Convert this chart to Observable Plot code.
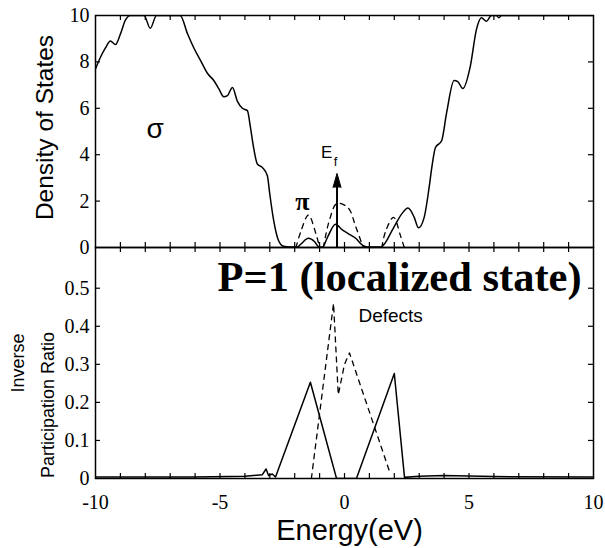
<!DOCTYPE html>
<html>
<head>
<meta charset="utf-8">
<script src="https://cdn.jsdelivr.net/npm/d3@7"></script>
<script src="https://cdn.jsdelivr.net/npm/@observablehq/plot@0.6"></script>
<style>
html, body { margin: 0; padding: 0; background: #fff; }
#chart { position: relative; width: 605px; height: 548px; overflow: hidden; }
#chart svg { position: absolute; left: 0; top: 0; }
</style>
</head>
<body>
<div id="chart"></div>
<script>
// ---------- data ----------
const energyTickMarks = d3.range(-9, 10);          // minor ticks every 1 eV
const energyTickLabels = [-10, -5, 0, 5, 10];
const dosTicks = [0, 2, 4, 6, 8, 10];
const iprTicks = [0, 0.1, 0.2, 0.3, 0.4, 0.5];
const fermiEnergy = -0.3;

// Density of states (solid) [energy, DOS]
const dosSolid = [
  [-10.0, 7.7], [-9.8, 8.2], [-9.6, 8.6], [-9.4, 8.9], [-9.2, 8.75], [-9.0, 9.2], [-8.8, 9.8], [-8.6, 10],
  [-8.05, 10], [-7.8, 9.45], [-7.55, 10], [-6.6, 10], [-6.3, 9.2], [-6.05, 8.6], [-5.8, 8.1], [-5.5, 7.5],
  [-5.25, 7.2], [-5.05, 6.85], [-4.85, 6.5], [-4.7, 6.55], [-4.5, 6.9], [-4.3, 6.3], [-4.1, 6.0], [-3.9, 5.9],
  [-3.78, 5.2], [-3.65, 4.3], [-3.5, 3.6], [-3.3, 3.45], [-3.1, 3.1], [-3.0, 2.3], [-2.85, 1.2], [-2.65, 0.3],
  [-2.45, 0.05], [-2.2, 0.02], [-1.9, 0.02], [-1.75, 0.15], [-1.45, 0.4], [-1.2, 0.25], [-1.05, 0.05],
  [-0.88, 0.02], [-0.68, 0.45], [-0.36, 1.0], [-0.1, 0.77], [0.15, 0.6], [0.45, 0.4], [0.72, 0.1],
  [0.92, 0.02], [1.45, 0.02], [1.97, 0.85], [2.3, 1.45], [2.55, 1.7], [2.8, 1.3], [2.97, 0.85], [3.2, 1.3],
  [3.4, 2.6], [3.5, 3.4], [3.65, 4.3], [3.9, 4.6], [4.1, 5.8], [4.4, 7.2], [4.55, 7.15], [4.75, 6.85],
  [5.05, 7.8], [5.3, 9.4], [5.5, 9.9], [5.7, 9.75], [5.9, 10], [6.1, 10], [6.2, 9.9], [6.3, 10], [10, 10]
];
// Dashed partial DOS curves
const dosPiDashed = [[-1.95, 0], [-1.75, 0.7], [-1.45, 1.4], [-1.15, 0.6], [-1.0, 0]];
const dosMidDashed = [[-0.85, 0], [-0.6, 1.2], [-0.3, 1.9], [0.15, 1.7], [0.45, 0.9], [0.75, 0]];
const dosRightDashed = [[1.5, 0], [1.65, 0.7], [1.97, 1.3], [2.25, 0.5], [2.4, 0]];

// Inverse participation ratio (solid) [energy, IPR]
const iprSolid = [
  [-10, 0.004], [-6, 0.004], [-4, 0.006], [-3.3, 0.01], [-3.15, 0.025], [-3.05, 0.008], [-2.9, 0.012],
  [-2.77, 0.004], [-1.37, 0.253], [-0.32, 0], [0.48, 0], [2.0, 0.276], [2.41, 0.003], [3, 0.006],
  [4, 0.008], [6, 0.005], [10, 0.004]
];
// Defects (dashed)
const iprDashed = [[-1.33, 0], [-0.44, 0.46], [-0.25, 0.22], [0.0, 0.3], [0.2, 0.33], [1.8, 0.02]];

// ---------- helpers ----------
const SERIF = "Liberation Serif, Times New Roman, serif";
const SANS = "Liberation Sans, Arial, sans-serif";
const toObj = a => a.map(([e, v]) => ({e, v}));
const W = 605, H = 548, ML = 95, MR = 12;
const FW = W - ML - MR;
const svgStyle = {background: "transparent", overflow: "visible", fontFamily: SERIF, fontSize: "20px"};

// ---------- top panel: density of states ----------
const topMT = 15, topMB = 301;
const topFH = H - topMT - topMB;
const topPlot = Plot.plot({
  width: W, height: H, marginLeft: ML, marginRight: MR, marginTop: topMT, marginBottom: topMB,
  style: svgStyle,
  x: {domain: [-10, 10], axis: null},
  y: {domain: [0, 10], axis: null},
  marks: [
    Plot.tickX(energyTickMarks, {x: d => d, insetTop: topFH - 5, stroke: "black", strokeWidth: 1.2}),
    Plot.tickX(energyTickMarks, {x: d => d, insetBottom: topFH - 5, stroke: "black", strokeWidth: 1.2}),
    Plot.tickY(dosTicks.slice(1, -1), {y: d => d, insetRight: FW - 5, stroke: "black", strokeWidth: 1.2}),
    Plot.tickY(dosTicks.slice(1, -1), {y: d => d, insetLeft: FW - 5, stroke: "black", strokeWidth: 1.2}),
    Plot.axisY(dosTicks, {tickSize: 0, tickPadding: 6, fontSize: 20, fontFamily: SERIF, label: null, tickFormat: d => String(d)}),
    Plot.line(toObj(dosSolid), {x: "e", y: "v", curve: "monotone-x", stroke: "black", strokeWidth: 1.5, clip: true}),
    Plot.line(toObj(dosPiDashed), {x: "e", y: "v", curve: "catmull-rom", stroke: "black", strokeWidth: 1.3, strokeDasharray: "5,5", clip: true}),
    Plot.line(toObj(dosMidDashed), {x: "e", y: "v", curve: "catmull-rom", stroke: "black", strokeWidth: 1.3, strokeDasharray: "5,5", clip: true}),
    Plot.line(toObj(dosRightDashed), {x: "e", y: "v", curve: "catmull-rom", stroke: "black", strokeWidth: 1.3, strokeDasharray: "5,5", clip: true}),
    // Fermi level arrow
    Plot.ruleX([fermiEnergy], {x: d => d, y1: 0, y2: 2.7, stroke: "black", strokeWidth: 2}),
    Plot.vector([fermiEnergy], {x: d => d, y: 2.59, length: 14, r: 4, shape: "spike", anchor: "start", fill: "black", stroke: "black", strokeWidth: 1}),
    Plot.text(["E"], {x: -0.72, y: 3.84, text: d => d, fontSize: 17, fontFamily: SANS, lineAnchor: "bottom"}),
    Plot.text(["f"], {x: -0.36, y: 3.53, text: d => d, fontSize: 13, fontFamily: SANS, lineAnchor: "bottom"}),
    Plot.text(["σ"], {x: -7.6, y: 4.74, text: d => d, fontSize: 28, fontFamily: SANS, lineAnchor: "bottom"}),
    Plot.text(["π"], {x: -1.69, y: 1.6, text: d => d, fontSize: 26, fontFamily: SERIF, fontWeight: "bold", lineAnchor: "bottom"}),
    Plot.text(["Density of States"], {frameAnchor: "left", text: d => d, dx: -50, dy: -4, rotate: -90, fontSize: 24.5, fontFamily: SANS, textAnchor: "middle", lineAnchor: "middle"}),
    Plot.frame({stroke: "black", strokeWidth: 1.5})
  ]
});

// ---------- bottom panel: inverse participation ratio ----------
const botMT = 247, botMB = 70;
const botFH = H - botMT - botMB;
const bottomPlot = Plot.plot({
  width: W, height: H, marginLeft: ML, marginRight: MR, marginTop: botMT, marginBottom: botMB,
  style: svgStyle,
  x: {domain: [-10, 10], axis: null},
  y: {domain: [0, 0.607], axis: null},
  marks: [
    Plot.tickX(energyTickMarks, {x: d => d, insetTop: botFH - 5, stroke: "black", strokeWidth: 1.2}),
    Plot.tickX(energyTickMarks, {x: d => d, insetBottom: botFH - 5, stroke: "black", strokeWidth: 1.2}),
    Plot.tickY(iprTicks.slice(1), {y: d => d, insetRight: FW - 5, stroke: "black", strokeWidth: 1.2}),
    Plot.tickY(iprTicks.slice(1), {y: d => d, insetLeft: FW - 5, stroke: "black", strokeWidth: 1.2}),
    Plot.axisY(iprTicks, {tickSize: 0, tickPadding: 6, fontSize: 20, fontFamily: SERIF, label: null, tickFormat: d => String(d)}),
    Plot.axisX(energyTickLabels, {tickSize: 0, tickPadding: 16, fontSize: 20, fontFamily: SERIF, label: null, tickFormat: d => String(d)}),
    Plot.line(toObj(iprSolid), {x: "e", y: "v", stroke: "black", strokeWidth: 1.5, clip: true}),
    Plot.line(toObj(iprDashed), {x: "e", y: "v", stroke: "black", strokeWidth: 1.3, strokeDasharray: "5,5", clip: true}),
    Plot.text(["Defects"], {x: 0.56, y: 0.41, text: d => d, fontSize: 19, fontFamily: SANS, textAnchor: "start", lineAnchor: "bottom"}),
    Plot.text(["P=1 (localized state)"], {x: -5.1, y: 0.494, text: d => d, fontSize: 42.5, fontFamily: SERIF, fontWeight: "bold", textAnchor: "start", lineAnchor: "bottom"}),
    Plot.text(["Inverse"], {frameAnchor: "left", text: d => d, dx: -77, dy: 0, rotate: -90, fontSize: 18, fontFamily: SANS, textAnchor: "middle", lineAnchor: "middle"}),
    Plot.text(["Participation Ratio"], {frameAnchor: "left", text: d => d, dx: -47, dy: 42, rotate: -90, fontSize: 18, fontFamily: SANS, textAnchor: "middle", lineAnchor: "middle"}),
    Plot.text(["Energy(eV)"], {frameAnchor: "bottom", text: d => d, dx: 5, dy: 61, fontSize: 29, fontFamily: SANS, textAnchor: "middle", lineAnchor: "bottom"}),
    Plot.frame({stroke: "black", strokeWidth: 1.5})
  ]
});

const chart = document.getElementById("chart");
chart.appendChild(topPlot);
chart.appendChild(bottomPlot);
</script>
</body>
</html>
